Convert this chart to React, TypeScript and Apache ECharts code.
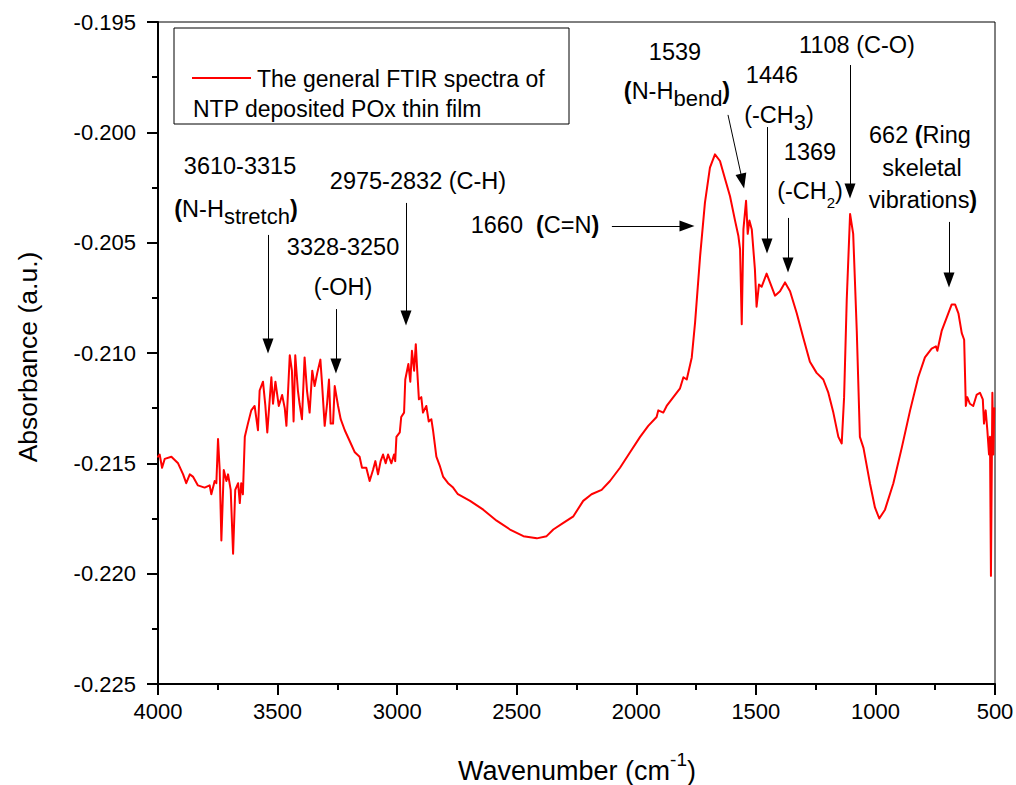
import React, { useEffect, useRef } from "react";
import * as echarts from "echarts";

const wavenumbers: number[] = [
  4000, 3993, 3983, 3972, 3944, 3916, 3895, 3882, 3867, 3854, 3833, 3805, 3784, 3777, 3763, 3756, 3749, 3742, 3735, 3725,
  3714, 3707, 3696, 3686, 3677, 3665, 3658, 3652, 3645, 3637, 3624, 3610, 3596, 3582, 3575, 3561, 3551, 3543, 3526, 3519,
  3509, 3495, 3481, 3470, 3463, 3456, 3449, 3440, 3433, 3426, 3415, 3408, 3398, 3387, 3377, 3366, 3355, 3345, 3334, 3321,
  3314, 3303, 3293, 3285, 3278, 3268, 3261, 3247, 3236, 3219, 3198, 3177, 3157, 3147, 3129, 3115, 3101, 3091, 3080, 3069,
  3059, 3048, 3038, 3024, 3013, 3008, 3003, 2989, 2983, 2971, 2966, 2953, 2945, 2938, 2929, 2922, 2916, 2909, 2899, 2892,
  2878, 2868, 2857, 2850, 2836, 2822, 2808, 2787, 2766, 2746, 2695, 2640, 2584, 2528, 2472, 2416, 2375, 2347, 2305, 2263,
  2222, 2187, 2145, 2110, 2068, 2026, 1984, 1950, 1915, 1908, 1887, 1873, 1845, 1817, 1803, 1789, 1768, 1754, 1733, 1713,
  1692, 1671, 1650, 1629, 1608, 1587, 1573, 1566, 1559, 1552, 1541, 1534, 1527, 1517, 1504, 1497, 1487, 1476, 1455, 1441,
  1420, 1399, 1378, 1357, 1329, 1302, 1274, 1246, 1218, 1197, 1176, 1155, 1141, 1131, 1120, 1106, 1093, 1078, 1065, 1050,
  1023, 1002, 984, 960, 925, 890, 855, 821, 793, 765, 747, 741, 723, 702, 681, 667, 653, 639, 629, 622,
  616, 605, 591, 577, 563, 551, 546, 539, 532, 525, 521, 517, 511, 507, 503,
];

const absorbance: number[] = [
  -0.2147, -0.2146, -0.2152, -0.2148, -0.2147, -0.215, -0.2155, -0.2159, -0.2155, -0.2156, -0.216, -0.2161, -0.216, -0.2164, -0.2158, -0.2159, -0.2139, -0.2153, -0.2185, -0.2153,
  -0.2158, -0.2155, -0.2162, -0.2191, -0.2162, -0.2159, -0.2168, -0.2159, -0.2164, -0.2138, -0.2132, -0.2126, -0.2124, -0.2135, -0.2117, -0.2113, -0.2124, -0.2136, -0.2111, -0.2123,
  -0.2113, -0.2124, -0.2119, -0.2125, -0.2133, -0.2117, -0.2101, -0.2108, -0.2131, -0.2101, -0.2117, -0.2123, -0.213, -0.2102, -0.2117, -0.2127, -0.2108, -0.2115, -0.2109, -0.2103,
  -0.2114, -0.2133, -0.2123, -0.2112, -0.2132, -0.2132, -0.2115, -0.2124, -0.213, -0.2135, -0.214, -0.2145, -0.2147, -0.2152, -0.2152, -0.2158, -0.2153, -0.2149, -0.2155, -0.2149,
  -0.2146, -0.215, -0.2146, -0.215, -0.2146, -0.2149, -0.2138, -0.2136, -0.2129, -0.2127, -0.2112, -0.2105, -0.2113, -0.2099, -0.2108, -0.2096, -0.2108, -0.2121, -0.212, -0.2127,
  -0.2124, -0.2131, -0.213, -0.2135, -0.2147, -0.2151, -0.2156, -0.2159, -0.2161, -0.2164, -0.2167, -0.2171, -0.2176, -0.218, -0.2183, -0.2184, -0.2183, -0.218, -0.2177, -0.2174,
  -0.2167, -0.2164, -0.2162, -0.2158, -0.2152, -0.2145, -0.2138, -0.2133, -0.2129, -0.2126, -0.2127, -0.2124, -0.212, -0.2116, -0.2111, -0.2112, -0.2102, -0.2086, -0.2056, -0.2032,
  -0.2016, -0.201, -0.2013, -0.2021, -0.2029, -0.204, -0.2047, -0.2053, -0.2087, -0.2044, -0.2031, -0.2046, -0.204, -0.2044, -0.2062, -0.2079, -0.2069, -0.207, -0.2064, -0.2068,
  -0.2074, -0.2072, -0.2068, -0.2072, -0.2082, -0.2093, -0.2104, -0.2109, -0.2112, -0.2118, -0.2127, -0.2138, -0.2141, -0.212, -0.2076, -0.2037, -0.2046, -0.209, -0.2138, -0.2143,
  -0.2159, -0.217, -0.2175, -0.2171, -0.2159, -0.2143, -0.2126, -0.2111, -0.2102, -0.2098, -0.2097, -0.2099, -0.209, -0.2084, -0.2078, -0.2078, -0.2082, -0.2091, -0.2094, -0.2124,
  -0.212, -0.2123, -0.2124, -0.2119, -0.2118, -0.2121, -0.2132, -0.2126, -0.2135, -0.2146, -0.2138, -0.2201, -0.2118, -0.2146, -0.2125,
];

const xTicks = { min: 500, max: 4000, interval: 500 };
const yTicks = { min: -0.225, max: -0.195, interval: 0.005 };

// annotation arrows: [startWavenumber, startAbs, endWavenumber, endAbs]
const arrows: number[][] = [
  [3540, -0.20465, 3540, -0.20968],
  [3256, -0.20801, 3256, -0.21059],
  [2963, -0.2032, 2963, -0.20841],
  [2102, -0.20425, 1788, -0.20425],
  [1616.5, -0.19921, 1555.8, -0.20221],
  [1453.4, -0.19976, 1453.4, -0.20515],
  [1365.6, -0.20388, 1365.6, -0.20601],
  [1106.3, -0.19695, 1106.3, -0.20266],
  [692.4, -0.20406, 692.4, -0.20669],
];

const legendLines = ["The general FTIR spectra of", "NTP deposited POx thin film"];

const FONT = '"Liberation Sans", Arial, Helvetica, sans-serif';
const AF = 23.5;

export default function App() {
  const ref = useRef<HTMLDivElement>(null);
  useEffect(() => {
    if (!ref.current) return;
    const chart = echarts.init(ref.current, null, { renderer: "svg" });
    const data = wavenumbers.map((w, i) => [w, absorbance[i]]);

    const rich = {
      n: { fontSize: AF, fontFamily: FONT, fill: "#000", padding: [0, 0, 7, 0], verticalAlign: "bottom" },
      b: { fontSize: AF, fontFamily: FONT, fill: "#000", fontWeight: "bold", padding: [0, 0, 7, 0], verticalAlign: "bottom" },
      s: { fontSize: 22, fontFamily: FONT, fill: "#000", verticalAlign: "bottom" },
      ss: { fontSize: 15, fontFamily: FONT, fill: "#000", verticalAlign: "bottom" },
    };
    const plain = (text: string, x: number, y: number) => ({
      type: "text",
      x,
      y,
      style: { text, fontSize: AF, fontFamily: FONT, fill: "#000", textAlign: "center", textVerticalAlign: "middle" },
    });
    const richText = (text: string, x: number, y: number) => ({
      type: "text",
      x,
      y,
      style: { text, rich, fontSize: AF, fontFamily: FONT, fill: "#000", textAlign: "center", textVerticalAlign: "middle" },
    });

    const markData = arrows.map((a) => [
      { coord: [a[0], a[1]], symbol: "none" },
      { coord: [a[2], a[3]], symbol: "triangle", symbolSize: [11, 15] },
    ]);

    chart.setOption({
      animation: false,
      backgroundColor: "#fff",
      grid: {
        left: 158,
        right: 21,
        top: 22,
        bottom: 101,
        containLabel: false,
        outerBoundsMode: "none",
        show: true,
        borderColor: "#000",
        borderWidth: 1,
      },
      xAxis: {
        type: "value",
        inverse: true,
        min: xTicks.min,
        max: xTicks.max,
        interval: xTicks.interval,
        axisLine: { show: true, onZero: false, lineStyle: { color: "#000", width: 2 } },
        axisTick: { show: true, length: 11, lineStyle: { color: "#000", width: 2 } },
        minorTick: { show: true, splitNumber: 2, length: 6, lineStyle: { color: "#000", width: 2 } },
        splitLine: { show: false },
        axisLabel: {
          fontSize: 22,
          color: "#000",
          fontFamily: FONT,
          margin: 16,
          showMinLabel: true,
          showMaxLabel: true,
          formatter: (v: number) => String(Math.round(v)),
        },
      },
      yAxis: {
        type: "value",
        min: yTicks.min,
        max: yTicks.max,
        interval: yTicks.interval,
        axisLine: { show: true, onZero: false, lineStyle: { color: "#000", width: 2 } },
        axisTick: { show: true, length: 11, lineStyle: { color: "#000", width: 2 } },
        minorTick: { show: true, splitNumber: 2, length: 6, lineStyle: { color: "#000", width: 2 } },
        splitLine: { show: false },
        axisLabel: {
          fontSize: 22,
          color: "#000",
          fontFamily: FONT,
          margin: 22,
          formatter: (v: number) => v.toFixed(3),
        },
      },
      series: [
        {
          type: "line",
          name: "FTIR",
          data,
          showSymbol: false,
          symbol: "none",
          lineStyle: { color: "#ff0000", width: 2, join: "round", cap: "round" },
          itemStyle: { color: "#ff0000" },
          markLine: {
            silent: true,
            symbol: ["none", "triangle"],
            symbolSize: 12,
            label: { show: false },
            lineStyle: { color: "#000", type: "solid", width: 1 },
            itemStyle: { color: "#000" },
            data: markData,
          },
        },
      ],
      graphic: [
        {
          type: "rect",
          shape: { x: 174, y: 28, width: 395, height: 96 },
          style: { fill: "#fff", stroke: "#000", lineWidth: 1 },
        },
        {
          type: "line",
          shape: { x1: 192, y1: 78, x2: 251, y2: 78 },
          style: { stroke: "#ff0000", lineWidth: 1.8 },
        },
        {
          type: "text",
          x: 257,
          y: 79,
          style: { text: legendLines[0], fontSize: 23, fontFamily: FONT, fill: "#000", textAlign: "left", textVerticalAlign: "middle" },
        },
        {
          type: "text",
          x: 193,
          y: 109,
          style: { text: legendLines[1], fontSize: 23, fontFamily: FONT, fill: "#000", textAlign: "left", textVerticalAlign: "middle" },
        },
        plain("3610-3315", 240, 166),
        richText("{b|(}{n|N-H}{s|stretch}{b|)}", 236, 212),
        plain("3328-3250", 343, 247),
        plain("(-OH)", 343, 287),
        plain("2975-2832 (C-H)", 418, 181),
        richText("{n|1660  }{b|(}{n|C=N}{b|)}", 535, 228),
        plain("1539", 675, 52),
        richText("{b|(}{n|N-H}{s|bend}{b|)}", 677, 94),
        plain("1446", 772, 75),
        richText("{n|(-CH}{s|3}{n|)}", 779, 118),
        plain("1369", 810, 152),
        richText("{n|(-CH}{ss|2}{n|)}", 810, 194),
        plain("1108 (C-O)", 857, 45),
        richText("{n|662 }{b|(}{n|Ring}", 920, 138),
        plain("skeletal", 922, 168),
        richText("{n|vibrations}{b|)}", 923, 203),
        {
          type: "text",
          x: 28,
          y: 357,
          rotation: Math.PI / 2,
          style: { text: "Absorbance (a.u.)", fontSize: 26.5, fontFamily: FONT, fill: "#000", textAlign: "center", textVerticalAlign: "middle" },
        },
        {
          type: "text",
          x: 577,
          y: 767,
          style: {
            text: "{a|Wavenumber (cm}{p|-1}{a|)}",
            rich: {
              a: { fontSize: 27, fontFamily: FONT, fill: "#000", verticalAlign: "bottom" },
              p: { fontSize: 19, fontFamily: FONT, fill: "#000", verticalAlign: "bottom", padding: [0, 0, 15, 0] },
            },
            textAlign: "center",
            textVerticalAlign: "middle",
          },
        },
      ],
    });
    return () => chart.dispose();
  }, []);
  return <div ref={ref} style={{ position: "fixed", left: 0, top: 0, width: 1016, height: 785 }} />;
}
